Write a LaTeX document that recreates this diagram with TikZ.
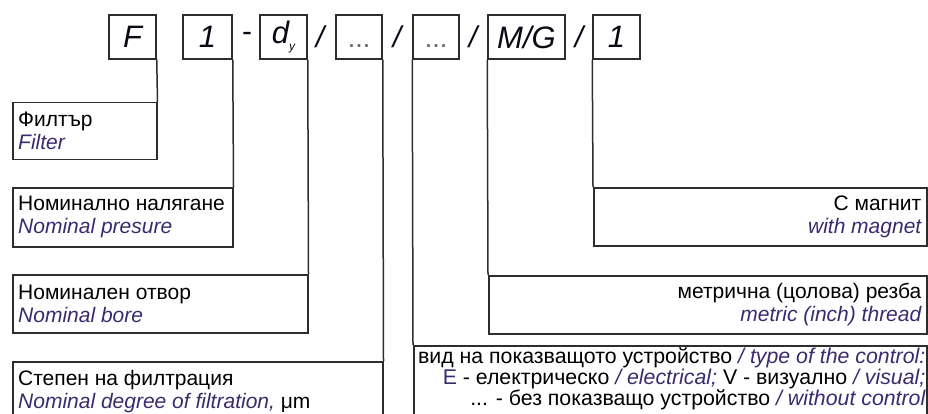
\documentclass[tikz,border=0pt]{standalone}
\usepackage{fontspec}
\setmainfont{Liberation Sans}
\definecolor{eng}{RGB}{58,42,110}
\definecolor{ln}{RGB}{45,45,45}
\newcommand{\en}[1]{{\color{eng}\itshape #1}}
\begin{document}
\begin{tikzpicture}[x=1pt,y=-1pt,
 frame/.style={draw=ln, line width=1.5pt, inner sep=0pt},
 topbox/.style={frame, minimum height=44pt, font=\fontsize{31}{31}\selectfont\itshape, text={black!80!eng}},
 sepr/.style={inner sep=0pt, font=\fontsize{30}{30}\selectfont\itshape, text={black!80!eng}},
 lbl/.style={inner sep=0pt, font=\fontsize{21}{23}\selectfont},
 lblsmall/.style={inner sep=0pt, font=\fontsize{21.3}{19.5}\selectfont},
 conn/.style={draw=ln, line width=1.5pt}]
\useasboundingbox (0,0) rectangle (928,414);
\clip (0,0) rectangle (928,414);
% top code boxes
\node[topbox, minimum width=47pt] (F) at (132.5,37) {F};
\node[topbox, minimum width=49pt] (one) at (207.5,37) {1};
\node[sepr] (s1) at (247,37) {\upshape -};
\node[topbox, minimum width=47pt] (dy) at (283.5,37) {d\raisebox{-7pt}{\fontsize{12}{12}\selectfont y}};
\node[sepr] (s2) at (320,37) {/};
\node[topbox, minimum width=46pt, text=black!60] (dA) at (359,37) {\vphantom{1}{\upshape\fontsize{27}{27}\selectfont ...}};
\node[sepr] (s3) at (397,37) {/};
\node[topbox, minimum width=46pt, text=black!60] (dB) at (436,37) {\vphantom{1}{\upshape\fontsize{27}{27}\selectfont ...}};
\node[sepr] (s4) at (473,37) {/};
\node[topbox, minimum width=77pt] (MG) at (526.5,37) {M/G};
\node[sepr] (s5) at (579,37) {/};
\node[topbox, minimum width=47pt] (one2) at (616.5,37) {1};
% left boxes
\node[frame, anchor=north west, minimum width=144pt, minimum height=57pt] (filter) at (12,102) {};
\node[lbl, anchor=west, align=left] (filterT) at ([xshift=6pt]filter.west) {Филтър\\\en{Filter}};
\node[frame, anchor=north west, minimum width=220pt, minimum height=59pt] (press) at (12,187) {};
\node[lbl, anchor=west, align=left] (pressT) at ([xshift=6pt]press.west) {Номинално налягане\\\en{Nominal presure}};
\node[frame, anchor=north west, minimum width=295pt, minimum height=58pt] (bore) at (12,274) {};
\node[lbl, anchor=west, align=left] (boreT) at ([xshift=6pt]bore.west) {Номинален отвор\\\en{Nominal bore}};
\node[frame, anchor=north west, minimum width=370pt, minimum height=80pt] (degree) at (12,361) {};
\node[lbl, anchor=west, align=left] (degreeT) at ([xshift=6pt,yshift=-30.5pt]degree.north west) {Степен на филтрация\\\en{Nominal degree of filtration,} μm};
% right boxes
\node[frame, anchor=north west, minimum width=333pt, minimum height=58pt] (magnet) at (593,187) {};
\node[lbl, anchor=east, align=right] (magnetT) at ([xshift=-6pt]magnet.east) {С магнит\\\en{with magnet}};
\node[frame, anchor=north west, minimum width=438pt, minimum height=58pt] (thread) at (488,275) {};
\node[lbl, anchor=east, align=right] (threadT) at ([xshift=-6pt]thread.east) {метрична (цолова) резба\\\en{metric (inch) thread}};
\node[frame, anchor=north west, minimum width=513pt, minimum height=90pt] (control) at (413,345) {};
\node[lblsmall, anchor=east, align=right] (controlT) at ([xshift=-2pt,yshift=-34pt]control.north east) {вид на показващото устройство \en{/ type of the control:}\\{\color{eng}E} - електрическо \en{/ electrical;} V - визуално \en{/ visual;}\\... - без показващо устройство \en{/ without control}};
% connectors
\draw[conn] (F.south east) -- (filter.north east);
\draw[conn] (one.south east) -- (press.north east);
\draw[conn] (dy.south east) -- (bore.north east);
\draw[conn] (dA.south east) -- (degree.north east);
\draw[conn] (dB.south west) -- (control.north west);
\draw[conn] (MG.south west) -- (thread.north west);
\draw[conn] (one2.south west) -- (magnet.north west);
\end{tikzpicture}
\end{document}
